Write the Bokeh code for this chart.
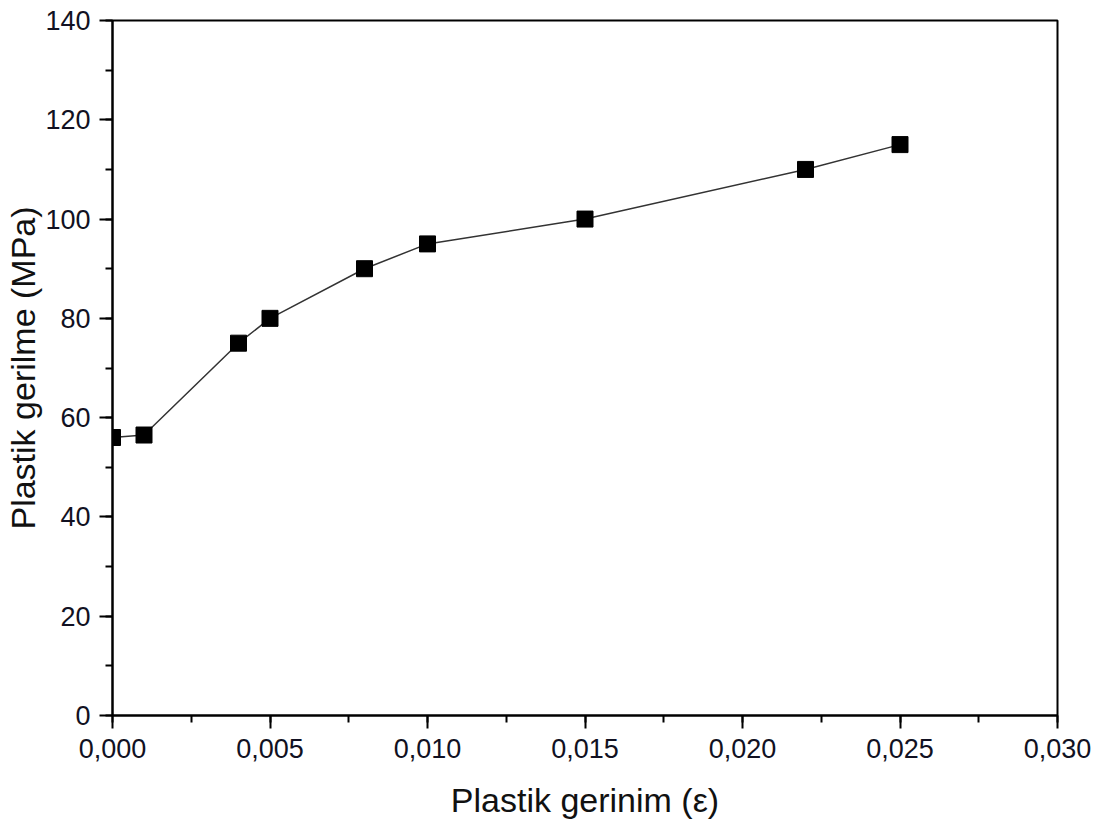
from bokeh.plotting import figure
from bokeh.models import SingleIntervalTicker, CustomJSTickFormatter, Range1d
from bokeh.embed import file_html
from bokeh.resources import INLINE

strain = [0.000, 0.001, 0.004, 0.005, 0.008, 0.010, 0.015, 0.022, 0.025]
stress = [56, 56.5, 75, 80, 90, 95, 100, 110, 115]

p = figure(width=1109, height=830, output_backend="svg", toolbar_location=None,
           x_range=Range1d(0, 0.030), y_range=Range1d(0, 140),
           min_border_left=112, min_border_right=52, min_border_top=20, min_border_bottom=115)
p.background_fill_color = "white"
p.border_fill_color = "white"
p.grid.visible = False
p.outline_line_color = "black"
p.outline_line_width = 2

p.line(strain, stress, line_color="#333333", line_width=1.5)
p.scatter(strain, stress, marker="square", size=16, fill_color="black", line_color="black")

font = "Liberation Sans"
for ax in (p.xaxis[0], p.yaxis[0]):
    ax.axis_line_width = 2
    ax.major_tick_line_width = 2
    ax.minor_tick_line_width = 2
    ax.major_tick_out = 13
    ax.major_tick_in = 0
    ax.minor_tick_out = 7
    ax.minor_tick_in = 0
    ax.major_label_text_font = font
    ax.major_label_text_font_size = "27px"
    ax.major_label_text_color = "#111122"
    ax.axis_label_text_font = font
    ax.axis_label_text_font_size = "34px"
    ax.axis_label_text_font_style = "normal"
    ax.axis_label_text_color = "#111111"

p.xaxis[0].ticker = SingleIntervalTicker(interval=0.005, num_minor_ticks=2)
p.yaxis[0].ticker = SingleIntervalTicker(interval=20, num_minor_ticks=2)
p.xaxis[0].formatter = CustomJSTickFormatter(code="return tick.toFixed(3).replace('.', ',');")
p.yaxis[0].formatter = CustomJSTickFormatter(code="return Math.round(tick).toString();")
p.xaxis[0].axis_label = "Plastik gerinim (ε)"
p.yaxis[0].axis_label = "Plastik gerilme (MPa)"
p.xaxis[0].major_label_standoff = 10
p.yaxis[0].major_label_standoff = 9
p.xaxis[0].axis_label_standoff = 20
p.yaxis[0].axis_label_standoff = 0

open("out.html", "w").write(file_html(p, INLINE))
